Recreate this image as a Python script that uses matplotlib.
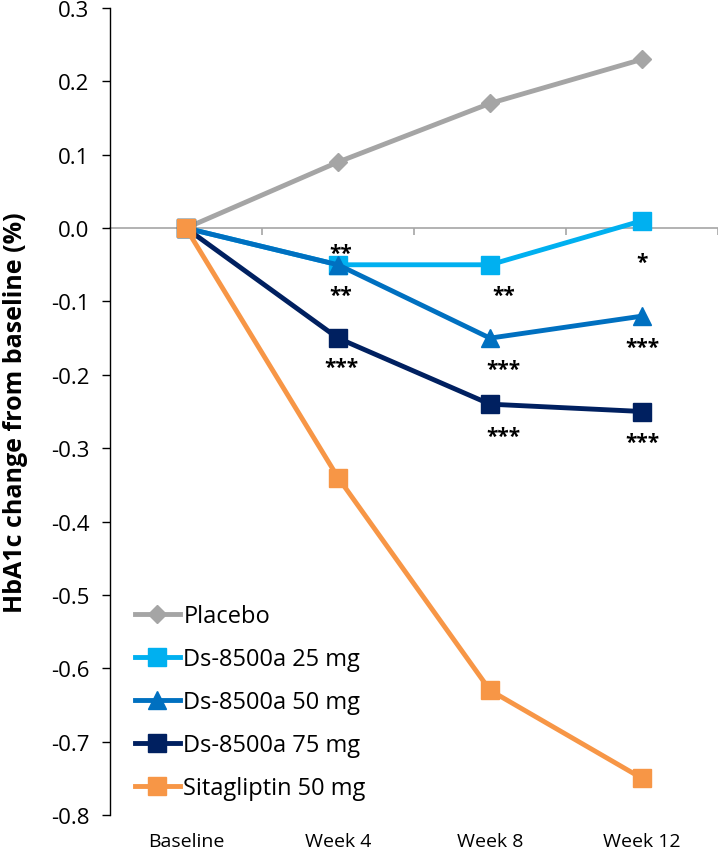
import numpy as np
import matplotlib
matplotlib.use('Agg')
import matplotlib.pyplot as plt
from matplotlib.ticker import FormatStrFormatter

plt.rcParams['font.family'] = ['Open Sans', 'DejaVu Sans']

# data
categories = ['Baseline', 'Week 4', 'Week 8', 'Week 12']
series_names = ['Placebo', 'Ds-8500a 25 mg', 'Ds-8500a 50 mg', 'Ds-8500a 75 mg', 'Sitagliptin 50 mg']
placebo = [0.0, 0.09, 0.17, 0.23]
ds_25 = [0.0, -0.05, -0.05, 0.01]
ds_50 = [0.0, -0.05, -0.15, -0.12]
ds_75 = [0.0, -0.15, -0.24, -0.25]
sitagliptin = [0.0, -0.34, -0.63, -0.75]

# significance marks: category index, y level, text
sig_cat = [1, 1, 1, 2, 2, 2, 3, 3, 3]
sig_y = [-0.025, -0.083, -0.18, -0.083, -0.183, -0.275, -0.037, -0.153, -0.283]
sig_text = ['**', '**', '***', '**', '***', '***', '*', '***', '***']

colors = ['#A5A5A5', '#00B0F0', '#0070C0', '#002060', '#F79646']
markers = ['D', 's', '^', 's', 's']
msizes = [9, 12.5, 12.5, 12.5, 12.5]

fig = plt.figure(figsize=(7.18, 8.54), dpi=100)
ax = fig.add_axes([110 / 718, 38 / 854, 608 / 718, 807 / 854])

x = np.arange(len(categories))
all_series = [placebo, ds_25, ds_50, ds_75, sitagliptin]
for vals, name, c, m, ms in zip(all_series, series_names, colors, markers, msizes):
    ax.plot(x, vals, color=c, lw=3.5, marker=m, markersize=ms, label=name)

# asterisks, Week 8 ones sit a little right of the point
x_shift = {1: 0.02, 2: 0.09, 3: 0.0}
for ci, yv, t in zip(sig_cat, sig_y, sig_text):
    ax.annotate(t, (ci + x_shift[ci], yv), xytext=(0, -5), textcoords='offset points',
                ha='center', va='center', fontsize=15, fontweight='bold')

ax.set_xlim(-0.5, len(categories) - 0.5)
ax.set_ylim(-0.8, 0.3)
ax.set_yticks(np.round(np.arange(-0.8, 0.31, 0.1), 1) + 0.0)
ax.yaxis.set_major_formatter(FormatStrFormatter('%.1f'))
ax.tick_params(axis='y', length=6, width=1, pad=9, labelsize=16, direction='out')

ax.spines['top'].set_visible(False)
ax.spines['right'].set_visible(False)
ax.spines['left'].set_linewidth(1)
ax.spines['bottom'].set_position(('data', 0))
ax.spines['bottom'].set_color('#A6A6A6')
ax.spines['bottom'].set_linewidth(1.2)
ax.spines['bottom'].set_zorder(0)

# boundary ticks on the zero line, category labels at the bottom
ax.set_xticks(x + 0.5)
ax.set_xticklabels([])
ax.tick_params(axis='x', length=5, width=1.2, color='#A6A6A6', direction='out')
sec = ax.secondary_xaxis('bottom')
sec.set_xticks(x)
sec.set_xticklabels(categories)
sec.tick_params(length=0, pad=12, labelsize=14)
sec.spines['bottom'].set_visible(False)

ax.set_ylabel('HbA1c change from baseline (%)', fontsize=18, fontweight='bold')
ax.yaxis.set_label_coords(-0.135, 0.5)

ax.legend(loc='center left', bbox_to_anchor=(0.041, 0.14), frameon=False, fontsize=17,
          handlelength=1.9, handletextpad=0.15, labelspacing=0.8, borderpad=0, borderaxespad=0)

fig.savefig('out.png', dpi=100)
